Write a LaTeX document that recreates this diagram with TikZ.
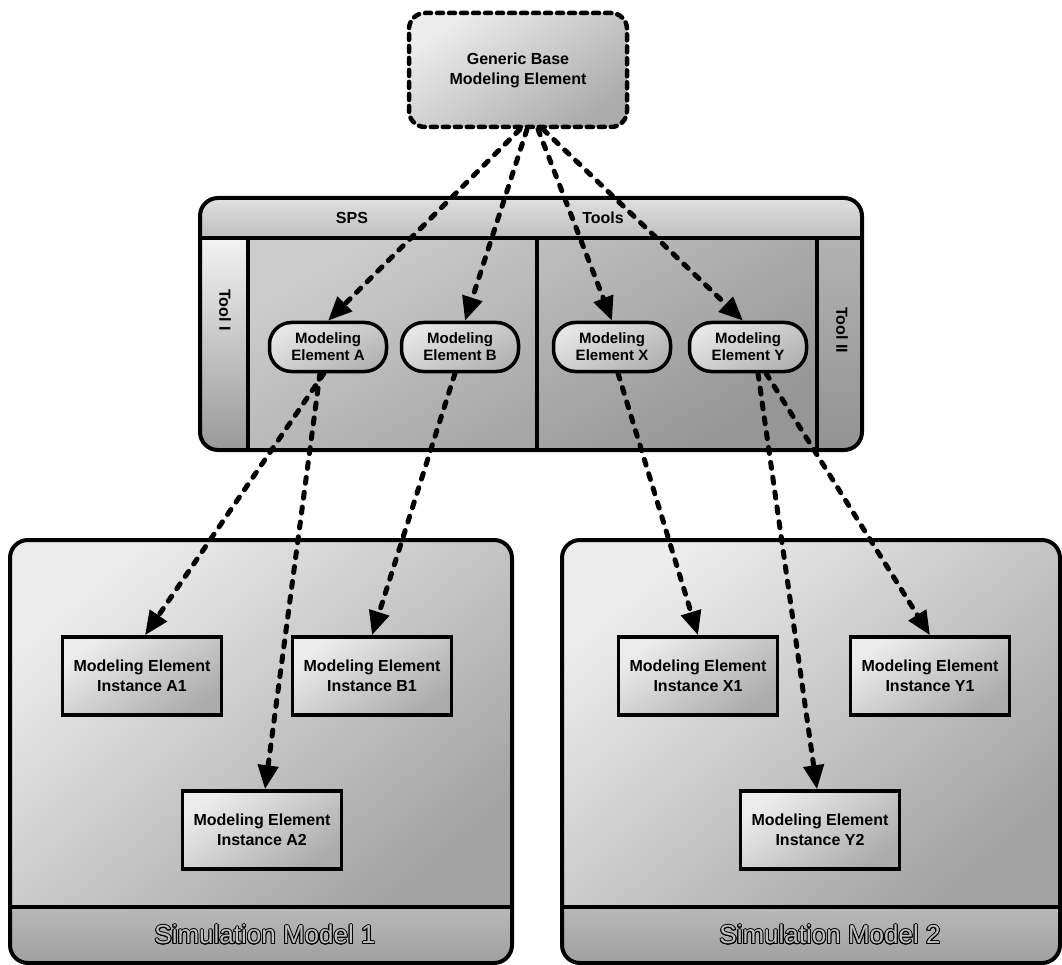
\documentclass[tikz,border=0pt]{standalone}
\usepackage{fontspec}
\setmainfont{Liberation Sans}
\usepackage{contour}
\contourlength{0.9pt}
\usetikzlibrary{arrows.meta}

\begin{document}
\begin{tikzpicture}[x=1pt, y=-1pt,
    lbl/.style={font=\fontsize{16}{20}\selectfont\bfseries, align=center},
    basebox/.style={lbl, draw, line width=4.5pt, dash pattern=on 6pt off 6pt, line cap=round,
        rounded corners=16pt, minimum width=218pt, minimum height=114pt, inner sep=0pt,
        top color=gray!15, bottom color=gray!65, shading angle=35},
    pill/.style={lbl, draw, line width=3.5pt, rounded corners=22pt, minimum width=117pt,
        minimum height=49pt, inner sep=0pt, font=\fontsize{15}{17}\selectfont\bfseries,
        top color=gray!20, bottom color=gray!60, shading angle=30},
    instbox/.style={lbl, draw, line width=3.5pt, minimum width=159pt, minimum height=78pt,
        inner sep=0pt, top color=gray!15, bottom color=gray!65, shading angle=35},
    link/.style={line width=5pt, dash pattern=on 6pt off 9pt, line cap=round,
        -{Triangle[length=24pt, width=20pt]}}]
    \useasboundingbox (0,0) rectangle (1062,965);

    % SPS tools frame with its two lanes
    \begin{scope}
        \clip[rounded corners=18pt] (200,198) rectangle (862,450);
        \shade[top color=gray!25, bottom color=gray!50] (200,198) rectangle (862,238);
        \shade[top color=gray!10, bottom color=gray!80] (200,238) rectangle (248,450);
        \shade[top color=gray!40, bottom color=gray!82, shading angle=30] (248,238) rectangle (817,450);
        \shade[top color=gray!60, bottom color=gray!85] (817,238) rectangle (862,450);
    \end{scope}
    \draw[line width=3.5pt] (200,238) -- (862,238) (248,238) -- (248,450)
        (537,238) -- (537,450) (817,238) -- (817,450);
    \draw[line width=4pt, rounded corners=18pt] (200,198) rectangle (862,450);
    \node[lbl] (sps) at (352,218) {SPS};
    \node[lbl] (tools) at (603,218) {Tools};
    \node[lbl, rotate=-90] (tool1) at (225,310) {Tool I};
    \node[lbl, rotate=-90] (tool2) at (842,330) {Tool II};

    % simulation models
    \foreach \xa/\xb/\xt/\num in {10/512/265/1, 562/1060/830/2} {
        \begin{scope}
            \clip[rounded corners=18pt] (\xa,540) rectangle (\xb,963);
            \shade[top color=gray!15, bottom color=gray!72, shading angle=40] (\xa,540) rectangle (\xb,907);
            \shade[top color=gray!55, bottom color=gray!75] (\xa,907) rectangle (\xb,963);
        \end{scope}
        \draw[line width=3.5pt] (\xa,907) -- (\xb,907);
        \draw[line width=4pt, rounded corners=18pt] (\xa,540) rectangle (\xb,963);
        \node[font=\fontsize{26}{30}\selectfont] (model\num) at (\xt,935)
            {\contour{black}{\textcolor{gray!50}{Simulation Model \num}}};
    }

    % base element
    \node[basebox] (base) at (518,70) {Generic Base\\Modeling Element};

    % modeling elements
    \node[pill] (elA) at (328,347) {Modeling\\Element A};
    \node[pill] (elB) at (460,347) {Modeling\\Element B};
    \node[pill] (elX) at (612,347) {Modeling\\Element X};
    \node[pill] (elY) at (748,347) {Modeling\\Element Y};

    % instances
    \node[instbox] (instA1) at (142,676) {Modeling Element\\Instance A1};
    \node[instbox] (instB1) at (372,676) {Modeling Element\\Instance B1};
    \node[instbox] (instA2) at (262,830) {Modeling Element\\Instance A2};
    \node[instbox] (instX1) at (698,676) {Modeling Element\\Instance X1};
    \node[instbox] (instY1) at (930,676) {Modeling Element\\Instance Y1};
    \node[instbox] (instY2) at (820,830) {Modeling Element\\Instance Y2};

    % derivation links
    \draw[link] ([xshift=2pt]base.south) -- (elA.north);
    \draw[link] ([xshift=9pt]base.south) -- ([xshift=5pt]elB.north);
    \draw[link] ([xshift=20pt]base.south) -- (elX.north);
    \draw[link] ([xshift=25pt]base.south) -- ([xshift=-5pt]elY.north);

    \draw[link] ([xshift=-4pt]elA.south) -- ([xshift=3pt]instA1.north);
    \draw[link] ([xshift=-8pt]elA.south) -- ([xshift=3pt]instA2.north);
    \draw[link] ([xshift=-5pt]elB.south) -- (instB1.north);
    \draw[link] ([xshift=6pt]elX.south) -- (instX1.north);
    \draw[link] ([xshift=10pt]elY.south) -- ([xshift=-3pt]instY2.north);
    \draw[link] ([xshift=18pt]elY.south) -- (instY1.north);
\end{tikzpicture}
\end{document}
